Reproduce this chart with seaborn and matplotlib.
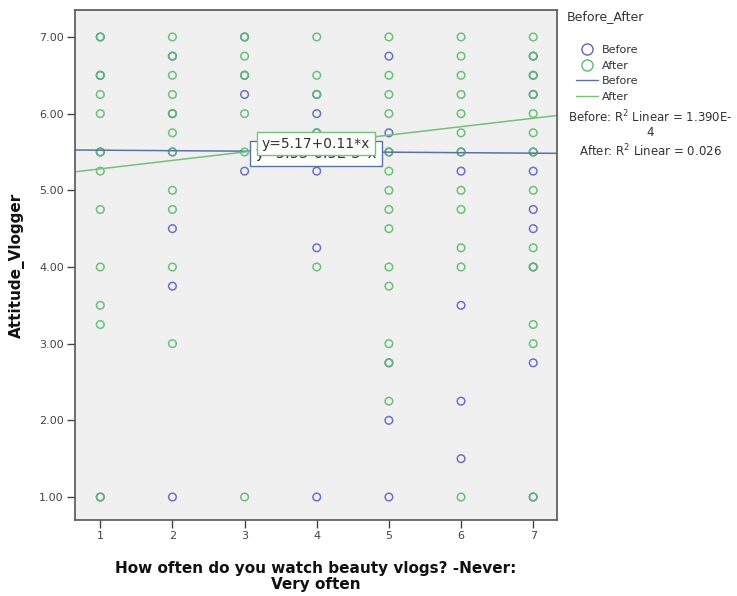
import numpy as np
import pandas as pd
import matplotlib
matplotlib.use("Agg")
import matplotlib.pyplot as plt
from matplotlib.lines import Line2D
import seaborn as sns

# Watching frequency (1 = never ... 7 = very often) and attitude scores per group
before_x = [1, 1, 1, 1,
            2, 2, 2, 2, 2, 2,
            3, 3, 3, 3,
            4, 4, 4, 4, 4, 4,
            5, 5, 5, 5, 5, 5,
            6, 6, 6, 6, 6,
            7, 7, 7, 7, 7, 7, 7, 7, 7, 7]
before_y = [7.0, 6.5, 5.5, 1.0,
            6.75, 6.0, 5.5, 4.5, 3.75, 1.0,
            7.0, 6.5, 6.25, 5.25,
            6.25, 6.0, 5.75, 5.25, 4.25, 1.0,
            6.75, 5.75, 5.5, 2.75, 2.0, 1.0,
            5.5, 5.25, 3.5, 2.25, 1.5,
            6.75, 6.5, 6.25, 5.5, 5.25, 4.75, 4.5, 4.0, 2.75, 1.0]

after_x = [1] * 11 + [2] * 11 + [3] * 6 + [4] * 5 + [5] * 14 + [6] * 12 + [7] * 13
after_y = [7.0, 6.5, 6.25, 6.0, 5.5, 5.25, 4.75, 4.0, 3.5, 3.25, 1.0,
           7.0, 6.75, 6.5, 6.25, 6.0, 5.75, 5.5, 5.0, 4.75, 4.0, 3.0,
           7.0, 6.75, 6.5, 6.0, 5.5, 1.0,
           7.0, 6.5, 6.25, 5.75, 4.0,
           7.0, 6.5, 6.25, 6.0, 5.5, 5.25, 5.0, 4.75, 4.5, 4.0, 3.75, 3.0, 2.75, 2.25,
           7.0, 6.75, 6.5, 6.25, 6.0, 5.75, 5.5, 5.0, 4.75, 4.25, 4.0, 1.0,
           7.0, 6.75, 6.5, 6.25, 6.0, 5.75, 5.5, 5.0, 4.25, 4.0, 3.25, 3.0, 1.0]

# Fitted lines (intercept, slope) as reported in the fit labels
before_fit = (5.53, -0.0065)
after_fit = (5.17, 0.11)
before_label = "y=5.53-6.5E-3*x"
after_label = "y=5.17+0.11*x"
r2_before = "Before: R$^2$ Linear = 1.390E-\n4"
r2_after = "After: R$^2$ Linear = 0.026"

x_ticks = [1, 2, 3, 4, 5, 6, 7]
y_ticks = [1.0, 2.0, 3.0, 4.0, 5.0, 6.0, 7.0]

BLUE = "#5b63c4"
GREEN = "#5cbd6a"
BLUE_LINE = "#5872a8"
GREEN_LINE = "#72c27a"

sns.set_theme(style="white")
plt.rcParams["font.family"] = ["DejaVu Sans"]

fig = plt.figure(figsize=(7.37, 5.96), dpi=100)
ax = fig.add_axes([0.1018, 0.1275, 0.654, 0.8555])
ax.set_facecolor("#f0f0f0")

df_b = pd.DataFrame({"x": before_x, "y": before_y})
df_a = pd.DataFrame({"x": after_x, "y": after_y})

sns.scatterplot(data=df_b, x="x", y="y", ax=ax, marker="o", s=30,
                facecolor="none", edgecolor=BLUE, linewidth=1.1, alpha=0.9)
sns.scatterplot(data=df_a, x="x", y="y", ax=ax, marker="o", s=30,
                facecolor="none", edgecolor=GREEN, linewidth=1.1, alpha=0.9)

xlim = (0.65, 7.33)
ylim = (0.70, 7.35)
xs = np.array(xlim)
lines = pd.DataFrame({
    "x": np.concatenate([xs, xs]),
    "y": np.concatenate([before_fit[0] + before_fit[1] * xs,
                         after_fit[0] + after_fit[1] * xs]),
    "g": ["Before", "Before", "After", "After"],
})
sns.lineplot(data=lines, x="x", y="y", hue="g", ax=ax,
             palette={"Before": BLUE_LINE, "After": GREEN_LINE},
             linewidth=1.1, legend=False)

ax.set_xlim(*xlim)
ax.set_ylim(*ylim)

# Fit labels, the Before box mostly covered by the After box
ax.text(3.99, 5.48, before_label, ha="center", va="center", fontsize=10.5,
        color="#333333", zorder=5,
        bbox=dict(boxstyle="square,pad=0.35", fc="white", ec=BLUE_LINE, lw=1))
ax.text(3.99, 5.61, after_label, ha="center", va="center", fontsize=10,
        color="#333333", zorder=6,
        bbox=dict(boxstyle="square,pad=0.35", fc="white", ec=GREEN_LINE, lw=1))

ax.set_xticks(x_ticks)
ax.set_xticklabels([str(t) for t in x_ticks])
ax.set_yticks(y_ticks)
ax.set_yticklabels([f"{t:.2f}" for t in y_ticks])
ax.tick_params(axis="both", which="major", direction="out", length=6, width=1,
               color="#444444", labelsize=8, labelcolor="#444444", pad=2,
               left=True, bottom=True)

for sp in ax.spines.values():
    sp.set_color("#555555")
    sp.set_linewidth(1.2)

ax.set_xlabel("How often do you watch beauty vlogs? -Never:\nVery often",
              fontsize=11, fontweight="bold", color="#111111", labelpad=14,
              linespacing=1.15)
ax.set_ylabel("Attitude_Vlogger", fontsize=11, fontweight="bold",
              color="#111111", labelpad=10)

fig.text(0.769, 0.983, "Before_After", ha="left", va="top", fontsize=9,
         color="#333333")
handles = [
    Line2D([], [], marker="o", ls="none", mfc="none", mec=BLUE, ms=8, mew=1),
    Line2D([], [], marker="o", ls="none", mfc="none", mec=GREEN, ms=8, mew=1),
    Line2D([], [], color=BLUE_LINE, lw=1),
    Line2D([], [], color=GREEN_LINE, lw=1),
]
leg = fig.legend(handles, ["Before", "After", "Before", "After"],
                 loc="upper left", bbox_to_anchor=(0.775, 0.932),
                 frameon=False, fontsize=8, handlelength=2.0,
                 handletextpad=0.4, labelspacing=0.5, borderaxespad=0)
for t in leg.get_texts():
    t.set_color("#333333")

fig.text(0.882, 0.818, r2_before, ha="center", va="top", fontsize=8.5,
         color="#333333", linespacing=1.05)
fig.text(0.882, 0.760, r2_after, ha="center", va="top", fontsize=8.5,
         color="#333333")

fig.savefig("out.png", dpi=100)
